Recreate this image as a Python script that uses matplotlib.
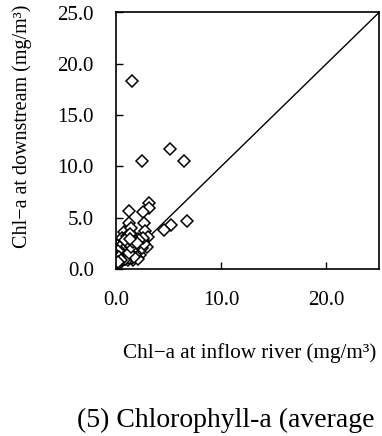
import numpy as np
import matplotlib
matplotlib.use("Agg")
import matplotlib.pyplot as plt

# Chl-a: inflow river (x) vs downstream (y), mg/m3
inflow = [1.52, 5.13, 2.47, 6.50, 6.78, 5.23, 4.60, 3.10, 3.14, 2.53, 1.24, 1.24,
          2.63, 0.73, 1.39, 2.76, 3.00, 2.53, 2.98, 1.65, 0.07,
          0.30, 0.40, 0.50, 0.60, 0.70, 0.80, 0.90, 1.00, 1.10, 1.20, 1.30, 1.40,
          1.50, 1.60, 1.70, 1.80, 1.90, 2.00, 2.10, 2.20, 2.30, 2.40, 2.50, 2.70,
          0.20, 0.30, 0.50, 0.60, 0.80, 1.00, 1.10, 1.30, 0.40, 0.90, 1.50, 1.90,
          2.10, 0.20, 0.60, 1.20, 1.70, 2.60, 1.40, 0.70, 1.80, 2.20,
          0.35, 0.55, 0.75, 0.95, 1.15, 1.35, 1.55, 1.75, 0.45, 0.65, 0.85, 1.05,
          1.25, 1.45, 0.25, 0.50, 0.15, 1.00, 1.60, 2.00, 0.90, 1.30]
downstream = [18.3, 11.67, 10.56, 10.56, 4.65, 4.29, 3.80, 6.40, 5.90, 5.60, 5.62, 4.50,
              4.48, 3.57, 4.00, 3.67, 3.15, 2.83, 2.10, 0.88, 0.39,
              0.60, 1.00, 1.40, 0.80, 1.20, 1.70, 2.10, 1.50, 0.90, 2.40, 1.90, 1.30,
              2.80, 2.20, 1.60, 3.00, 2.50, 1.80, 2.90, 2.30, 1.40, 2.60, 2.00, 2.40,
              1.80, 2.20, 2.60, 3.00, 2.50, 3.20, 2.70, 3.40, 1.60, 1.00, 1.10, 1.20,
              1.00, 0.50, 1.90, 1.10, 2.00, 3.00, 2.50, 2.20, 1.40, 2.80,
              1.30, 1.70, 1.50, 1.30, 1.80, 1.60, 1.90, 1.20, 2.00, 2.40, 1.00, 2.20,
              1.60, 2.10, 1.20, 0.90, 0.70, 2.60, 2.60, 2.50, 2.80, 2.90]

ticks = [0, 5, 10, 15, 20, 25]
xticks = [0, 10, 20]

plt.rcParams['font.family'] = ['Liberation Serif', 'DejaVu Serif']

fig = plt.figure(figsize=(3.82, 4.36), dpi=100, facecolor='w')
ax = fig.add_axes([116/382, 1 - 269/436, 263/382, 256.5/436])

ax.plot([0, 25], [0, 25], color='black', linewidth=1.0, zorder=1)
ax.plot(inflow, downstream, linestyle='none', marker='D', markersize=6,
        markerfacecolor='white', markeredgecolor='black', markeredgewidth=1.1,
        zorder=2)

ax.set_xlim(0, 25)
ax.set_ylim(0, 25)
ax.set_xticks(xticks)
ax.set_yticks(ticks)
ax.set_xticklabels(['%.1f' % t for t in xticks])
ax.set_yticklabels(['%.1f' % t for t in ticks])
ax.tick_params(direction='in', length=5, width=1.0, labelsize=15, pad=16)
for s in ax.spines.values():
    s.set_linewidth(1.2)

fig.text(22/382, 1 - 126/436, 'Chl\u2212a at downstream (mg/m\u00b3)',
         rotation=90, ha='center', va='center', fontsize=14.5)
fig.text(123/382, 1 - 353/436, 'Chl\u2212a at inflow river (mg/m\u00b3)',
         ha='left', va='center', fontsize=15.2)
# the reference crops the caption at the right edge
fig.text(77/382, 1 - 427/436, '(5) Chlorophyll-a (average',
         ha='left', va='baseline', fontsize=20)

fig.savefig('out.png', dpi=100)
